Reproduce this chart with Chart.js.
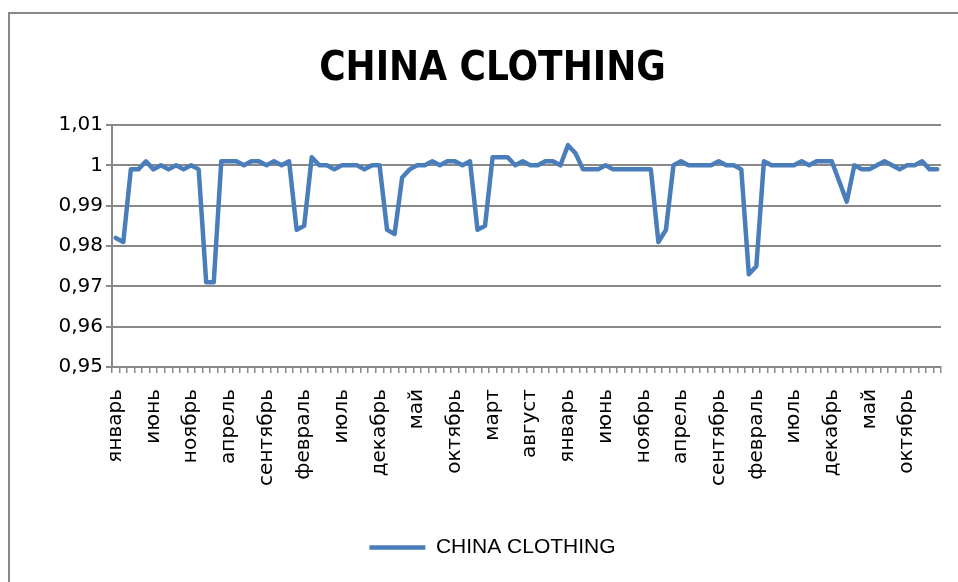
<!DOCTYPE html>
<html>
<head>
<meta charset="utf-8">
<script src="https://cdn.jsdelivr.net/npm/chart.js@4"></script>
<style>
  html, body { margin: 0; padding: 0; background: #fff; }
  #wrap { position: relative; width: 958px; height: 582px; overflow: hidden; }
  #cadre { position: absolute; left: 8px; top: 12px; width: 1000px; height: 700px; border: 2px solid #898989; box-sizing: border-box; }
  #graph { position: absolute; left: 0; top: 0; }
</style>
</head>
<body>
<div id="wrap">
  <div id="cadre"></div>
  <canvas id="graph" width="958" height="582"></canvas>
</div>
<script>
// Noms des mois (catégories)
const moisNoms = ['январь', 'февраль', 'март', 'апрель', 'май', 'июнь',
    'июль', 'август', 'сентябрь', 'октябрь', 'ноябрь', 'декабрь'];

// 110 mois consécutifs à partir de janvier
const categories = [];
for (let i = 0; i < 110; i++) categories.push(moisNoms[i % 12]);

// Valeurs
const valeurs = [
    0.982, 0.981, 0.999, 0.999, 1.001, 0.999, 1.000, 0.999, 1.000, 0.999, 1.000, 0.999,
    0.971, 0.971, 1.001, 1.001, 1.001, 1.000, 1.001, 1.001, 1.000, 1.001, 1.000, 1.001,
    0.984, 0.985, 1.002, 1.000, 1.000, 0.999, 1.000, 1.000, 1.000, 0.999, 1.000, 1.000,
    0.984, 0.983, 0.997, 0.999, 1.000, 1.000, 1.001, 1.000, 1.001, 1.001, 1.000, 1.001,
    0.984, 0.985, 1.002, 1.002, 1.002, 1.000, 1.001, 1.000, 1.000, 1.001, 1.001, 1.000,
    1.005, 1.003, 0.999, 0.999, 0.999, 1.000, 0.999, 0.999, 0.999, 0.999, 0.999, 0.999,
    0.981, 0.984, 1.000, 1.001, 1.000, 1.000, 1.000, 1.000, 1.001, 1.000, 1.000, 0.999,
    0.973, 0.975, 1.001, 1.000, 1.000, 1.000, 1.000, 1.001, 1.000, 1.001, 1.001, 1.001,
    0.996, 0.991, 1.000, 0.999, 0.999, 1.000, 1.001, 1.000, 0.999, 1.000, 1.000, 1.001,
    0.999, 0.999
];

const titre = 'CHINA CLOTHING';
const nomSerie = 'CHINA CLOTHING';
const grisAxe = '#898989';

const ctx = document.getElementById('graph');
new Chart(ctx, {
    type: 'line',
    data: {
        labels: categories,
        datasets: [{
            label: nomSerie,
            data: valeurs,
            borderColor: '#4a7ebb',
            backgroundColor: '#4a7ebb',
            borderWidth: 4.5,
            pointRadius: 0,
            tension: 0,
            borderJoinStyle: 'round',
            borderCapStyle: 'round'
        }]
    },
    options: {
        responsive: false,
        animation: false,
        devicePixelRatio: 1,
        layout: { padding: { left: 44, right: 17, top: 0, bottom: 14 } },
        plugins: {
            title: {
                display: true,
                text: titre,
                color: '#000',
                font: { family: "'DejaVu Sans Condensed', 'DejaVu Sans', sans-serif", style: 'condensed', size: 40, weight: 'bold', lineHeight: 1.2 },
                padding: { top: 46, bottom: 31 }
            },
            legend: {
                position: 'bottom',
                labels: {
                    color: '#000',
                    font: { family: "'Liberation Sans', sans-serif", size: 21 },
                    usePointStyle: true,
                    pointStyle: 'line',
                    pointStyleWidth: 56,
                    padding: 10
                }
            },
            tooltip: { enabled: false }
        },
        scales: {
            x: {
                offset: true,
                grid: {
                    offset: true,
                    drawOnChartArea: false,
                    drawTicks: true,
                    tickLength: 6,
                    color: grisAxe,
                    lineWidth: 1.5
                },
                border: { color: grisAxe, width: 2 },
                ticks: {
                    autoSkip: false,
                    minRotation: 90,
                    maxRotation: 90,
                    padding: 16,
                    color: '#000',
                    font: { family: "'DejaVu Sans', sans-serif", size: 20 },
                    callback: function(val, index) {
                        return index % 5 === 0 ? this.getLabelForValue(val) : '';
                    }
                },
                afterFit: function(scale) {
                    scale.height = 160;
                    scale.paddingLeft = 0;
                    scale.paddingRight = 0;
                }
            },
            y: {
                min: 0.95,
                max: 1.01,
                grid: {
                    color: grisAxe,
                    lineWidth: 2,
                    tickLength: 6
                },
                border: { color: grisAxe, width: 2 },
                ticks: {
                    stepSize: 0.01,
                    padding: 3,
                    color: '#000',
                    font: { family: "'DejaVu Sans', sans-serif", size: 20 },
                    callback: v => String(Number(v.toFixed(2))).replace('.', ',')
                },
                afterFit: function(scale) { scale.width = 68; }
            }
        }
    }
});
</script>
</body>
</html>
